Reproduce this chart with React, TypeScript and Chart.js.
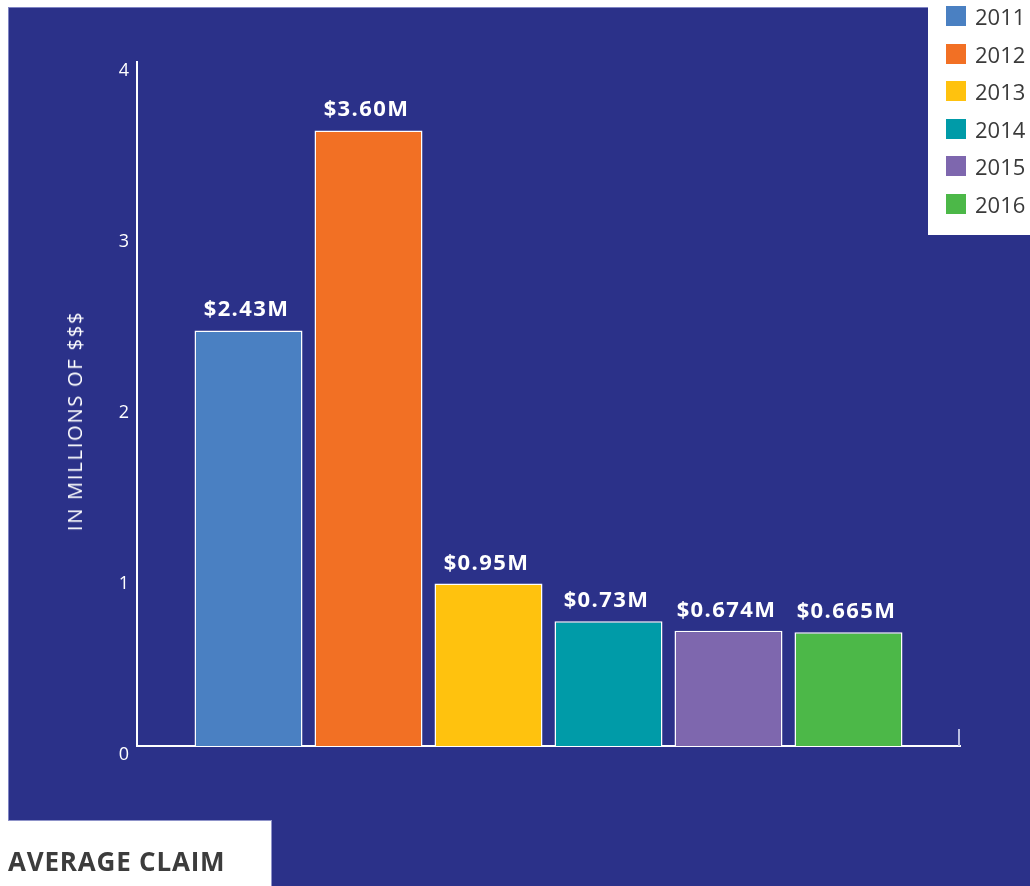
import React, { useEffect, useRef } from "react";
import { Chart, registerables } from "chart.js";

Chart.register(...registerables);

const years = ["2011", "2012", "2013", "2014", "2015", "2016"];
const averageClaim = [2.43, 3.6, 0.95, 0.73, 0.674, 0.665];
const valueLabels = ["$2.43M", "$3.60M", "$0.95M", "$0.73M", "$0.674M", "$0.665M"];
const barColors = ["#4a80c2", "#f27024", "#ffc20e", "#009ba8", "#7e67ae", "#4cb848"];
const yMin = 0;
const yMax = 4;
const yStep = 1;
const yAxisTitle = "IN MILLIONS OF $$$";
const chartTitle = "AVERAGE CLAIM";

const NAVY = "#2b3189";
const FONT = '"Open Sans", "Noto Sans", sans-serif';

const labelPlugin = {
  id: "valueLabels",
  afterDatasetsDraw(chart: any) {
    const ctx = chart.ctx;
    ctx.save();
    ctx.font = `700 22px ${FONT}`;
    (ctx as any).letterSpacing = "1.4px";
    ctx.fillStyle = "#ffffff";
    ctx.textAlign = "center";
    ctx.textBaseline = "alphabetic";
    chart.data.datasets.forEach((ds: any, i: number) => {
      const meta = chart.getDatasetMeta(i);
      const el = meta.data[0];
      if (!el) return;
      ctx.fillText(valueLabels[i], el.x - 2, el.y - 14);
    });
    ctx.restore();
  },
  afterDraw(chart: any) {
    const { ctx, chartArea } = chart;
    ctx.save();
    ctx.strokeStyle = "#b9bde0";
    ctx.lineWidth = 2;
    ctx.beginPath();
    ctx.moveTo(chartArea.right - 1, chartArea.bottom);
    ctx.lineTo(chartArea.right - 1, chartArea.bottom - 17);
    ctx.stroke();
    ctx.restore();
  },
};

export default function App() {
  const canvasRef = useRef<HTMLCanvasElement | null>(null);

  useEffect(() => {
    if (!canvasRef.current) return;
    const chart = new Chart(canvasRef.current, {
      type: "bar",
      data: {
        labels: [""],
        datasets: years.map((y, i) => ({
          label: y,
          data: [averageClaim[i]],
          backgroundColor: barColors[i],
          borderColor: "#ffffff",
          borderWidth: 1.5,
          barPercentage: 0.9,
          categoryPercentage: 0.8748,
        })),
      },
      options: {
        responsive: false,
        maintainAspectRatio: false,
        animation: false,
        devicePixelRatio: 1,
        layout: { padding: { left: 0, right: 70, top: 62, bottom: 100 } },
        plugins: {
          legend: { display: false },
          tooltip: { enabled: false },
          title: { display: false },
        },
        scales: {
          x: {
            grid: { display: false, drawTicks: false },
            border: { display: true, color: "#ffffff", width: 2 },
            ticks: { display: false },
            afterFit: (scale: any) => {
              scale.height = 40;
            },
          },
          y: {
            min: yMin,
            max: yMax,
            grid: { display: false, drawTicks: false },
            border: { display: true, color: "#ffffff", width: 2 },
            ticks: {
              stepSize: yStep,
              color: "#ffffff",
              padding: 8,
              labelOffset: 9,
              font: { family: FONT, size: 18, weight: "normal" },
            },
            afterFit: (scale: any) => {
              scale.width = 137;
            },
          },
        },
      },
      plugins: [labelPlugin],
    });
    return () => chart.destroy();
  }, []);

  return (
    <div
      style={{
        position: "absolute",
        left: 0,
        top: 0,
        width: 1030,
        height: 886,
        overflow: "hidden",
        background: "#ffffff",
        fontFamily: FONT,
      }}
    >
      <div
        style={{
          position: "absolute",
          left: 8,
          top: 7,
          width: 1022,
          height: 879,
          background: NAVY,
          borderLeft: "1px solid #7f84c3",
          borderTop: "1px solid #7f84c3",
          boxSizing: "border-box",
        }}
      />
      <div
        style={{
          position: "absolute",
          left: 928,
          top: 0,
          width: 102,
          height: 235,
          background: "#ffffff",
        }}
      />
      <div
        style={{
          position: "absolute",
          left: 8,
          top: 820,
          width: 264,
          height: 66,
          background: "#ffffff",
          borderTop: "1px solid #8f93c9",
          borderRight: "1px solid #8f93c9",
          boxSizing: "border-box",
        }}
      />
      <canvas
        ref={canvasRef}
        width={1030}
        height={886}
        style={{ position: "absolute", left: 0, top: 0, width: 1030, height: 886 }}
      />
      <div
        style={{
          position: "absolute",
          left: 75,
          top: 421,
          transform: "translate(-50%, -50%) rotate(-90deg)",
          whiteSpace: "nowrap",
          color: "#ffffff",
          fontSize: 20,
          letterSpacing: "1.8px",
          lineHeight: "24px",
        }}
      >
        {yAxisTitle}
      </div>
      {years.map((y, i) => (
        <div
          key={y}
          style={{
            position: "absolute",
            left: 946,
            top: 6 + i * 37.5,
            height: 20,
            display: "flex",
            alignItems: "center",
          }}
        >
          <span
            style={{
              display: "inline-block",
              width: 20,
              height: 20,
              background: barColors[i],
            }}
          />
          <span
            style={{
              marginLeft: 9,
              fontSize: 22,
              lineHeight: "20px",
              color: "#3a3a3a",
              whiteSpace: "nowrap",
            }}
          >
            {y}
          </span>
        </div>
      ))}
      <div
        style={{
          position: "absolute",
          left: 8,
          top: 848,
          fontSize: 26,
          fontWeight: 700,
          lineHeight: "26px",
          letterSpacing: "0.8px",
          color: "#3c3c3c",
          whiteSpace: "nowrap",
        }}
      >
        {chartTitle}
      </div>
    </div>
  );
}
